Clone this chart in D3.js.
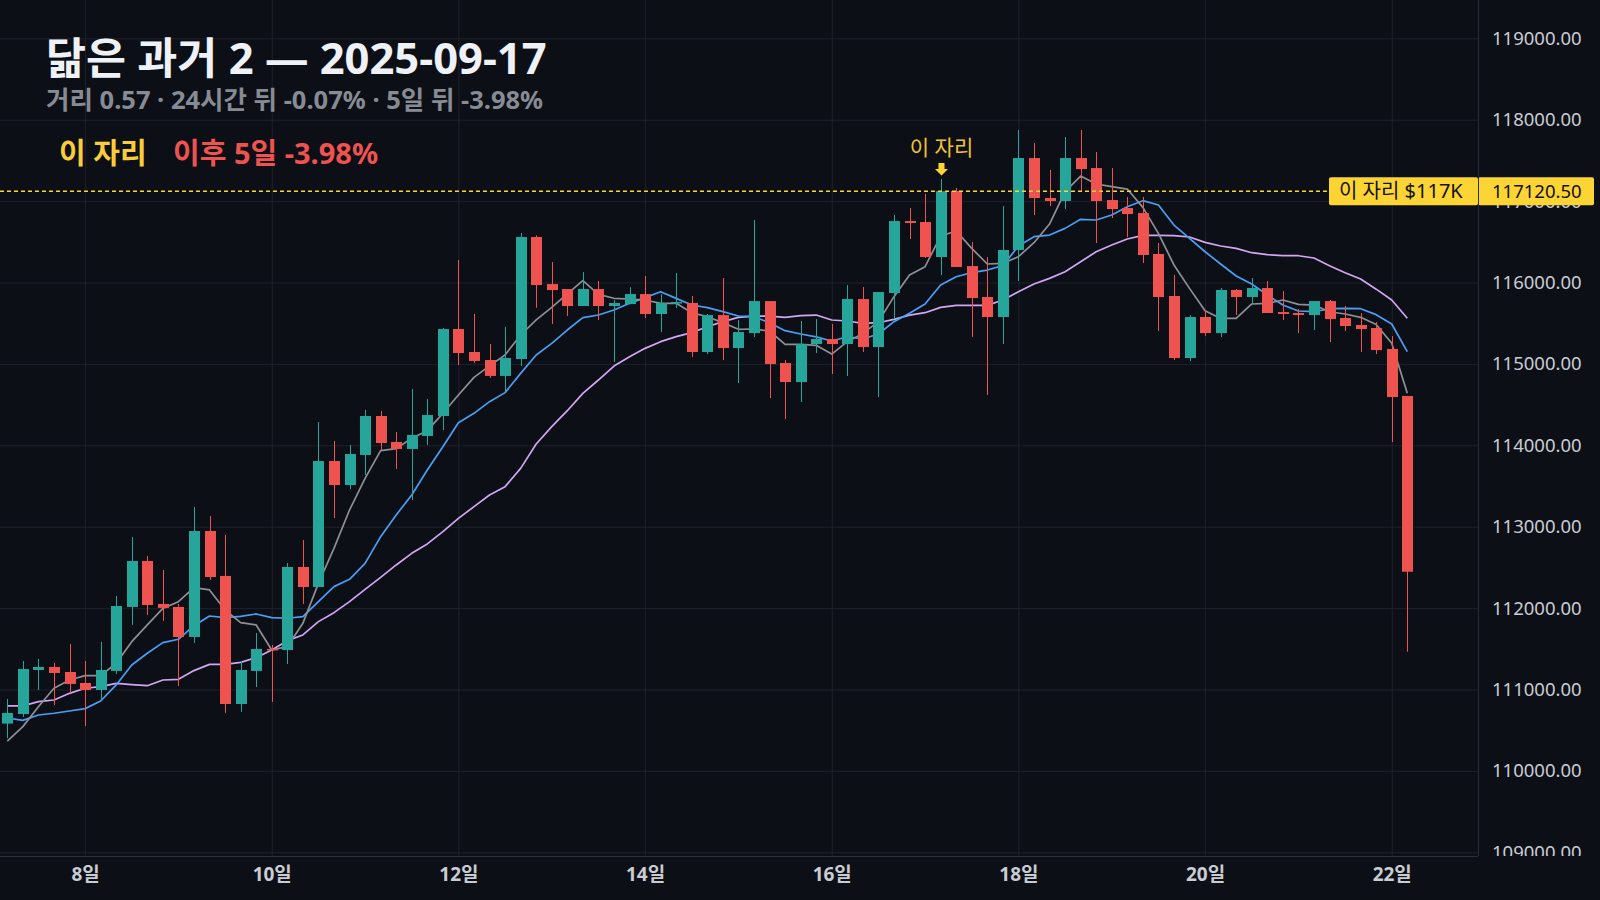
<!DOCTYPE html>
<html>
<head>
<meta charset="utf-8">
<script src="https://cdn.jsdelivr.net/npm/d3@7"></script>
<style>
  html, body { margin: 0; padding: 0; background: #0c0f16; }
  svg { display: block; font-family: "Noto Sans", "Noto Sans CJK KR", sans-serif; }
</style>
</head>
<body>
<svg id="chart" width="1600" height="900"></svg>
<script>
// 4시간 봉, 2025-09-07 04:00 부터
const startTime = new Date(2025, 8, 7, 4);
const stepHours = 4;

const opens = [
  110581, 110699, 111240, 111277, 111215, 111080, 110994, 111228, 112014, 112579,
  112051, 112014, 111645, 112947, 112395, 110822, 111228, 111498, 111485, 112505,
  112259, 113807, 113512, 113881, 114360, 114041, 113955, 114114, 114360, 115429,
  115146, 115048, 114852, 115060, 116559, 115981, 115920, 115711, 115920, 115711,
  115735, 115858, 115613, 115748, 115748, 115146, 115600, 115195, 115379, 115772,
  115011, 114777, 115244, 115306, 115244, 115797, 115207, 115871, 116755, 116743,
  116313, 117124, 116202, 115822, 115576, 116399, 117529, 117038, 117001, 117529,
  117406, 117013, 116915, 116853, 116350, 115834, 115072, 115576, 115379, 115908,
  115822, 115932, 115637, 115625, 115600, 115772, 115564, 115478, 115441, 115183,
  114606
];
const highs = [
  110884, 111350, 111375, 111326, 111559, 111350, 111584, 112149, 112874, 112640,
  112468, 112051, 113242, 113132, 112898, 111350, 111694, 111547, 112554, 112837,
  114286, 114053, 114004, 114434, 114422, 114164, 114692, 114569, 115441, 116277,
  115613, 115245, 115454, 116608, 116580, 116251, 115920, 116128, 116018, 115784,
  115944, 116079, 115858, 116116, 115834, 115613, 116055, 115539, 116767, 115772,
  115047, 115527, 115551, 115490, 115969, 115944, 115883, 116829, 116915, 117087,
  117271, 117161, 116497, 116313, 116939, 117873, 117713, 117382, 117787, 117873,
  117603, 117406, 117050, 117050, 116485, 116092, 115600, 115662, 115932, 115920,
  116055, 116018, 115895, 115674, 115772, 115785, 115711, 115625, 115514, 115342,
  114606
];
const lows = [
  110400, 110662, 110994, 110810, 110953, 110552, 110871, 111191, 111793, 111916,
  111842, 111043, 111572, 112345, 110712, 110724, 111031, 110847, 111313, 112051,
  112259, 113107, 113463, 113635, 113942, 113709, 113328, 114004, 114188, 114987,
  115011, 114827, 114655, 114974, 115690, 115490, 115588, 115711, 115539, 115023,
  115735, 115563, 115391, 115686, 115084, 115121, 115047, 114765, 115330, 114581,
  114323, 114531, 115133, 114876, 114851, 115146, 114593, 115551, 116534, 116301,
  116092, 116190, 115330, 114618, 115244, 116018, 116829, 116939, 116903, 117124,
  116485, 116792, 116559, 116239, 115404, 115048, 115035, 115342, 115330, 115600,
  115736, 115625, 115539, 115379, 115416, 115269, 115404, 115146, 115121, 114040,
  111465
];
const closes = [
  110712, 111252, 111277, 111203, 111068, 110994, 111240, 112026, 112579, 112038,
  112002, 111645, 112947, 112382, 110822, 111240, 111498, 111485, 112505, 112259,
  113807, 113512, 113893, 114360, 114028, 113955, 114127, 114372, 115429, 115134,
  115036, 114852, 115073, 116559, 115969, 115907, 115711, 115920, 115711, 115748,
  115858, 115613, 115748, 115760, 115146, 115600, 115195, 115391, 115772, 114998,
  114777, 115244, 115306, 115244, 115797, 115207, 115883, 116755, 116731, 116313,
  117120.5, 116190, 115809, 115576, 116399, 117529, 117038, 117001, 117529, 117394,
  117001, 116903, 116841, 116338, 115822, 115072, 115576, 115379, 115908, 115822,
  115932, 115625, 115613, 115600, 115772, 115551, 115465, 115428, 115170, 114593,
  112447
];

// 이동평균선
const maGray = [
  110367, 110544, 110789, 111015, 111117, 111170, 111170, 111322, 111588, 111793,
  111997, 112079, 112251, 112223, 111977, 111821, 111793, 111485, 111526, 111813,
  112304, 112734, 113205, 113594, 113934, 113959, 114086, 114180, 114393, 114618,
  114835, 114975, 115110, 115355, 115540, 115695, 115859, 116023, 115855, 115806,
  115797, 115785, 115744, 115744, 115629, 115580, 115507, 115425, 115429, 115404,
  115240, 115240, 115228, 115121, 115273, 115375, 115519, 115826, 116092, 116194,
  116571, 116632, 116419, 116227, 116235, 116317, 116489, 116718, 117116, 117308,
  117210, 117177, 117148, 116923, 116604, 116215, 115928, 115654, 115559, 115559,
  115736, 115744, 115785, 115731, 115723, 115641, 115613, 115572, 115484, 115253,
  114638
];
const maBlue = [
  110650, 110621, 110687, 110708, 110736, 110765, 110859, 111056, 111301, 111445,
  111576, 111617, 111784, 111903, 111883, 111899, 111928, 111883, 111875, 111895,
  112079, 112264, 112354, 112550, 112878, 113144, 113390, 113697, 113983, 114278,
  114393, 114536, 114647, 114884, 115110, 115253, 115416, 115568, 115601, 115662,
  115744, 115814, 115887, 115805, 115724, 115691, 115642, 115588, 115580, 115506,
  115408, 115367, 115332, 115281, 115334, 115306, 115367, 115519, 115621, 115736,
  115969, 116071, 116121, 116153, 116207, 116448, 116563, 116583, 116665, 116776,
  116768, 116829, 116931, 117005, 116952, 116706, 116542, 116378, 116227, 116080,
  115981, 115846, 115723, 115650, 115641, 115678, 115682, 115678, 115605, 115490,
  115150
];
const maPurple = [
  110798, 110798, 110851, 110871, 110953, 111015, 111035, 111076, 111060, 111047,
  111117, 111125, 111232, 111309, 111309, 111334, 111391, 111485, 111600, 111670,
  111834, 111944, 112079, 112231, 112378, 112530, 112673, 112788, 112939, 113103,
  113246, 113390, 113492, 113717, 114016, 114229, 114425, 114638, 114802, 114974,
  115089, 115191, 115273, 115335, 115384, 115457, 115519, 115572, 115588, 115588,
  115572, 115593, 115600, 115539, 115527, 115498, 115506, 115547, 115600, 115629,
  115695, 115719, 115719, 115719, 115785, 115887, 115981, 116051, 116133, 116256,
  116378, 116460, 116534, 116579, 116579, 116575, 116559, 116493, 116448, 116419,
  116366, 116342, 116329, 116329, 116301, 116206, 116120, 116043, 115918, 115785,
  115560
];

const yTicks = [109000, 110000, 111000, 112000, 113000, 114000, 115000, 116000, 117000, 118000, 119000];
const dayTicks = [8, 10, 12, 14, 16, 18, 20, 22];

const markIndex = 60;          // "이 자리" 봉
const markPrice = 117120.5;
const markLabel = "이 자리 $117K";
const titleText = "닮은 과거 2 — 2025-09-17";
const subText = "거리 0.57 · 24시간 뒤 -0.07% · 5일 뒤 -3.98%";
const legendHere = "이 자리";
const legendAfter = "이후 5일 -3.98%";

const UP = "#26a69a", DOWN = "#ef5350", YELLOW = "#fcd535";
const FONT = "'Noto Sans', 'Noto Sans CJK KR', sans-serif";

const times = opens.map((_, i) => d3.timeHour.offset(startTime, i * stepHours));
const candles = opens.map((o, i) => ({ t: times[i], o: o, h: highs[i], l: lows[i], c: closes[i] }));

const plotW = 1478, plotH = 856;

const svg = d3.select("#chart");
svg.append("rect").attr("width", 1600).attr("height", 900).attr("fill", "#0c0f16");

const x = d3.scaleTime()
  .domain([times[0], times[times.length - 1]])
  .range([7.3, 1407.3]);
const y = d3.scaleLinear()
  .domain([109000, 119000])
  .range([852.3, 38.3]);

const dayDates = dayTicks.map(d => new Date(2025, 8, d));

// 그리드
svg.append("g")
  .attr("class", "grid")
  .call(d3.axisLeft(y).tickValues(yTicks).tickSize(-plotW).tickFormat(""))
  .call(g => g.select(".domain").remove())
  .selectAll(".tick line")
  .attr("stroke", "#1e222c");

svg.append("g")
  .attr("class", "grid")
  .attr("transform", "translate(0," + plotH + ")")
  .call(d3.axisBottom(x).tickValues(dayDates).tickSize(-plotH).tickFormat(""))
  .call(g => g.select(".domain").remove())
  .selectAll(".tick line")
  .attr("stroke", "#1e222c");

// 이동평균선
const line = d3.line()
  .x((d, i) => x(times[i]))
  .y(d => y(d));

[[maPurple, "#d3a6f3"], [maBlue, "#4a9ff5"], [maGray, "#8e9095"]].forEach(([data, color]) => {
  svg.append("path")
    .datum(data)
    .attr("d", line)
    .attr("fill", "none")
    .attr("stroke", color)
    .attr("stroke-width", 1.7)
    .attr("stroke-linejoin", "round");
});

// 캔들
const bodyW = 11;
const cg = svg.append("g");
cg.selectAll("line.wick")
  .data(candles)
  .enter()
  .append("line")
  .attr("class", "wick")
  .attr("x1", d => Math.round(x(d.t)) + 0.5)
  .attr("x2", d => Math.round(x(d.t)) + 0.5)
  .attr("y1", d => y(d.h))
  .attr("y2", d => y(d.l))
  .attr("stroke", d => d.c >= d.o ? UP : DOWN)
  .attr("stroke-width", 1);

cg.selectAll("rect.body")
  .data(candles)
  .enter()
  .append("rect")
  .attr("class", "body")
  .attr("x", d => Math.round(x(d.t)) + 0.5 - bodyW / 2)
  .attr("y", d => y(Math.max(d.o, d.c)))
  .attr("width", bodyW)
  .attr("height", d => Math.max(1.5, Math.abs(y(d.o) - y(d.c))))
  .attr("fill", d => d.c >= d.o ? UP : DOWN);

// 기준가 점선
const yMark = y(markPrice);
svg.append("line")
  .attr("x1", 0).attr("x2", 1329)
  .attr("y1", yMark).attr("y2", yMark)
  .attr("stroke", YELLOW)
  .attr("stroke-width", 1.5)
  .attr("stroke-dasharray", "4,3");

// "이 자리" 표시
const xMark = Math.round(x(times[markIndex])) + 0.5;
svg.append("text")
  .attr("x", xMark).attr("y", 155)
  .attr("text-anchor", "middle")
  .attr("fill", "#f2c331")
  .attr("font-size", 21)
  .text(legendHere);
svg.append("path")
  .attr("d", `M${xMark - 3},163 h6 v6 h3.5 l-6.5,6.5 l-6.5,-6.5 h3.5 z`)
  .attr("fill", YELLOW);

// 가격 축
svg.append("clipPath").attr("id", "axisClip")
  .append("rect").attr("x", 0).attr("y", 0).attr("width", 130).attr("height", plotH);

svg.append("g")
  .attr("transform", "translate(" + plotW + ",0)")
  .attr("clip-path", "url(#axisClip)")
  .call(d3.axisRight(y).tickValues(yTicks).tickFormat(d3.format(".2f")).tickSize(0).tickPadding(14))
  .call(g => g.select(".domain").remove())
  .call(g => g.selectAll("text")
    .attr("fill", "#c9ccd3")
    .attr("font-size", 18.5)
    .attr("font-family", FONT));

// 날짜 축
svg.append("g")
  .attr("transform", "translate(0," + plotH + ")")
  .call(d3.axisBottom(x).tickValues(dayDates).tickFormat(d => d.getDate() + "일").tickSize(0).tickPadding(12))
  .call(g => g.select(".domain").remove())
  .call(g => g.selectAll("text")
    .attr("fill", "#c9ccd3")
    .attr("font-size", 19)
    .attr("font-weight", "bold")
    .attr("font-family", FONT));

// 가격 라벨 박스
svg.append("rect")
  .attr("x", 1329).attr("y", yMark - 14).attr("width", 149).attr("height", 28)
  .attr("rx", 2).attr("fill", YELLOW);
svg.append("rect")
  .attr("x", plotW).attr("y", yMark - 14).attr("width", 116).attr("height", 28)
  .attr("rx", 2).attr("fill", YELLOW);
svg.append("text")
  .attr("x", 1339).attr("y", yMark + 7)
  .attr("fill", "#111").attr("font-size", 20)
  .text(markLabel);
svg.append("text")
  .attr("x", 1492).attr("y", yMark + 6.5)
  .attr("fill", "#111").attr("font-size", 18.5)
  .text(d3.format(".2f")(markPrice));

// 테두리
svg.append("line")
  .attr("x1", plotW + 0.5).attr("x2", plotW + 0.5)
  .attr("y1", 0).attr("y2", plotH)
  .attr("stroke", "#2b2f3a");
svg.append("line")
  .attr("x1", 0).attr("x2", plotW)
  .attr("y1", plotH + 0.5).attr("y2", plotH + 0.5)
  .attr("stroke", "#2b2f3a");

// 제목
svg.append("text")
  .attr("x", 46).attr("y", 74)
  .attr("fill", "#eef1f5")
  .attr("font-size", 43.5)
  .attr("font-weight", "bold")
  .text(titleText);
svg.append("text")
  .attr("x", 46).attr("y", 108.5)
  .attr("fill", "#878b94")
  .attr("font-size", 25.5)
  .attr("font-weight", "bold")
  .text(subText);
svg.append("text")
  .attr("x", 59).attr("y", 164)
  .attr("fill", "#f8cc3a")
  .attr("font-size", 29)
  .attr("font-weight", "bold")
  .text(legendHere);
svg.append("text")
  .attr("x", 173).attr("y", 164)
  .attr("fill", "#ef5350")
  .attr("font-size", 29)
  .attr("font-weight", "bold")
  .text(legendAfter);
</script>
</body>
</html>
